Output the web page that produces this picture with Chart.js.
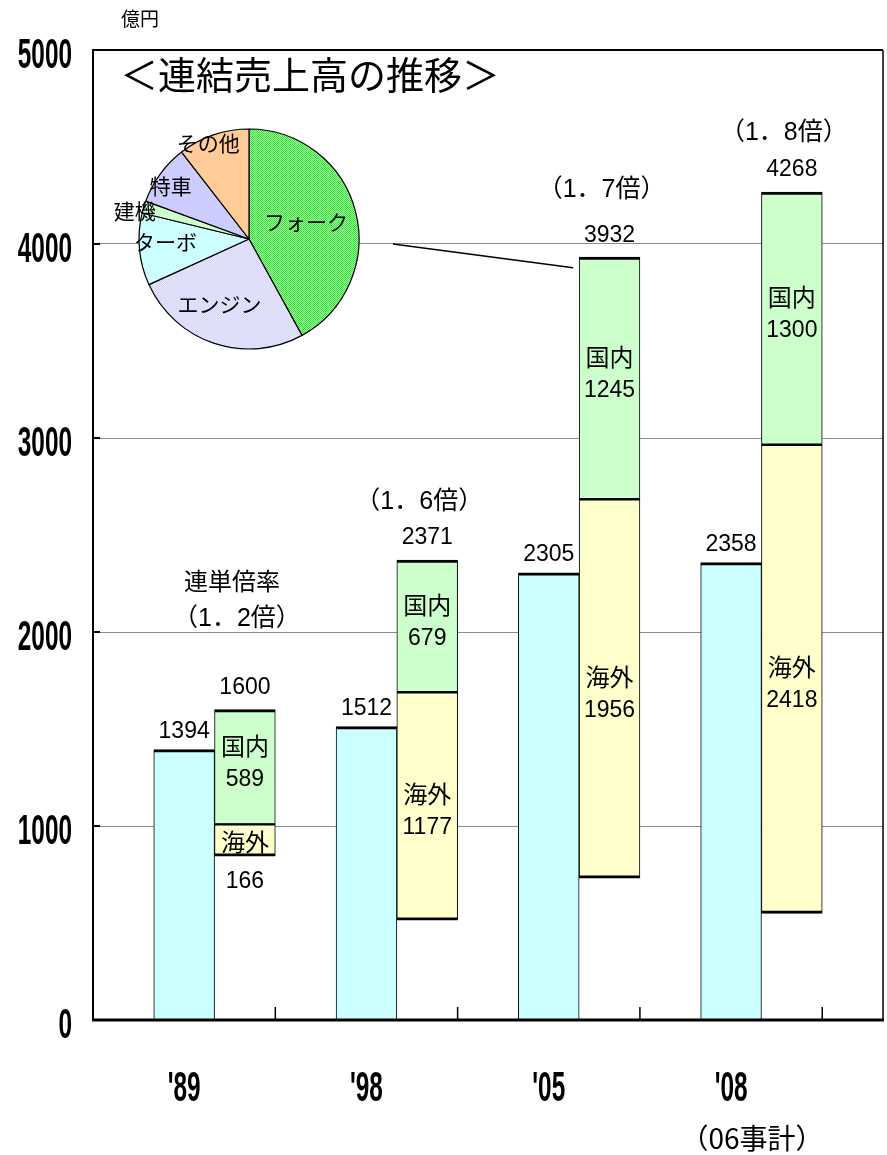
<!DOCTYPE html>
<html lang="ja">
<head>
<meta charset="utf-8">
<script src="https://cdn.jsdelivr.net/npm/chart.js@4.4.1/dist/chart.umd.min.js"></script>
<style>
  html, body { margin: 0; padding: 0; background: #fff; }
  #wrap { position: relative; width: 887px; height: 1155px; }
  #salesChart { position: absolute; left: 0; top: 0; }
  #segmentPie { position: absolute; }
</style>
</head>
<body>
<div id="wrap">
  <canvas id="salesChart" width="887" height="1155"></canvas>
  <canvas id="segmentPie" width="280" height="280"></canvas>
</div>
<script>
/* ---- data (億円) ---- */
const YEARS = ["'89", "'98", "'05", "'08"];
const YEAR_NOTES = ['', '', '', '（06事計）'];
const SINGLE = [1394, 1512, 2305, 2358];          // 単体
const CONSOLIDATED = [1600, 2371, 3932, 4268];    // 連結
const DOMESTIC = [589, 679, 1245, 1300];          // 国内
const OVERSEAS = [166, 1177, 1956, 2418];         // 海外
const RATIOS = ['（1．2倍）', '（1．6倍）', '（1．7倍）', '（1．8倍）'];
const Y_TICKS = [0, 1000, 2000, 3000, 4000, 5000];

const SEGMENTS = ['フォーク', 'エンジン', 'ターボ', '建機', '特車', 'その他'];
const SEGMENT_SHARE = [42.0, 26.2, 10.6, 1.8, 8.9, 10.5];

/* ---- layout bits ---- */
const RATIO_LIFT = [90, 58, 67, 59];
const PIE_CENTER = { x: 249, y: 239 };
const PIE_RADIUS = 110;
const PIE_LABEL_R = [0.54, 0.65, 0.76, 1.07, 0.86, 0.95];
const PIE_LABEL_TURN = [-2, 6, 3, -3, -2, -4];

const LABEL_FONT = '23px "Liberation Sans", "Noto Sans CJK JP", sans-serif';
const KANJI_FONT = '24px "Noto Sans CJK JP", sans-serif';
const JP_FONT = '"Noto Sans CJK JP", sans-serif';

// 13 slots: [blank, 単体, 連結] x 4 + blank
const slotLabels = [];
YEARS.forEach(yr => slotLabels.push('', yr, ''));
slotLabels.push('');

const singleData = slotLabels.map(() => null);
const overseasData = slotLabels.map(() => null);
const domesticData = slotLabels.map(() => null);
YEARS.forEach((_, i) => {
  const base = CONSOLIDATED[i] - DOMESTIC[i] - OVERSEAS[i];
  singleData[i * 3 + 1] = SINGLE[i];
  overseasData[i * 3 + 2] = [base, base + OVERSEAS[i]];
  domesticData[i * 3 + 2] = [base + OVERSEAS[i], CONSOLIDATED[i]];
});

function dotPattern(bg, fg) {
  const c = document.createElement('canvas');
  c.width = 2; c.height = 2;
  const g = c.getContext('2d');
  g.fillStyle = bg; g.fillRect(0, 0, 2, 2);
  g.fillStyle = fg; g.fillRect(0, 0, 1, 1); g.fillRect(1, 1, 1, 1);
  return g.createPattern(c, 'repeat');
}

function drawText(ctx, str, x, y, font, align) {
  ctx.font = font;
  ctx.textAlign = align || 'center';
  ctx.textBaseline = 'middle';
  ctx.fillStyle = '#000';
  ctx.fillText(str, x, y);
}

// narrow bold numerals like the original axis labels
function drawNarrow(ctx, str, x, baseline, align) {
  ctx.save();
  ctx.font = 'bold 42px "Liberation Sans", Arial, sans-serif';
  ctx.textBaseline = 'alphabetic';
  ctx.textAlign = align;
  ctx.fillStyle = '#000';
  ctx.translate(x, baseline);
  ctx.scale(0.58, 1);
  ctx.fillText(str, 0, 0);
  ctx.restore();
}

function line(ctx, x1, y1, x2, y2, w, color) {
  ctx.beginPath();
  ctx.lineWidth = w;
  ctx.strokeStyle = color || '#000';
  ctx.moveTo(x1, y1);
  ctx.lineTo(x2, y2);
  ctx.stroke();
}

const salesDecor = {
  id: 'salesDecor',
  afterDatasetsDraw(chart) {
    const { ctx, chartArea: a, scales: { x, y } } = chart;
    const single = chart.getDatasetMeta(0).data;
    const over = chart.getDatasetMeta(1).data;
    const dom = chart.getDatasetMeta(2).data;
    ctx.save();

    // frame
    line(ctx, a.left, a.top, a.right, a.top, 2);
    line(ctx, a.right, a.top, a.right, a.bottom, 1.5);
    line(ctx, a.left, a.top - 1, a.left, a.bottom, 2);
    line(ctx, a.left - 1, a.bottom, a.right + 1, a.bottom, 3);

    // y ticks (inside) and labels
    Y_TICKS.forEach(v => {
      const py = y.getPixelForValue(v);
      if (v > 0 && v < 5000) line(ctx, a.left, py, a.left + 7, py, 2);
      drawNarrow(ctx, String(v), 72, py + 18, 'right');
    });

    // x ticks after each group, and year labels
    const slotW = x.getPixelForValue(1) - x.getPixelForValue(0);
    YEARS.forEach((yr, i) => {
      const bx = x.getPixelForValue(i * 3 + 2) + slotW / 2;
      line(ctx, bx, a.bottom, bx, a.bottom - 13, 1.5);
      const lx = x.getPixelForValue(i * 3 + 1);
      drawNarrow(ctx, yr, lx, 1101, 'center');
      if (YEAR_NOTES[i]) drawText(ctx, YEAR_NOTES[i], lx + 21, 1138, '28px ' + JP_FONT);
    });

    // bar labels
    YEARS.forEach((yr, i) => {
      const s = single[i * 3 + 1];
      const o = over[i * 3 + 2];
      const d = dom[i * 3 + 2];
      drawText(ctx, String(SINGLE[i]), s.x, s.y - 18, LABEL_FONT);
      drawText(ctx, String(CONSOLIDATED[i]), d.x, d.y - 22, LABEL_FONT);
      drawText(ctx, RATIOS[i], d.x - 8, d.y - RATIO_LIFT[i], '25px "Liberation Sans", "Noto Sans CJK JP", sans-serif');
      if (i === 0) drawText(ctx, '連単倍率', d.x - 13, d.y - RATIO_LIFT[i] - 39, KANJI_FONT);

      const dm = (d.y + d.base) / 2 - 4;
      drawText(ctx, '国内', d.x, dm - 17, KANJI_FONT);
      drawText(ctx, String(DOMESTIC[i]), d.x, dm + 17, LABEL_FONT);

      const oh = o.base - o.y;
      if (oh > 80) {
        const om = (o.y + o.base) / 2 + 5;
        drawText(ctx, '海外', o.x, om - 17, KANJI_FONT);
        drawText(ctx, String(OVERSEAS[i]), o.x, om + 17, LABEL_FONT);
      } else {
        drawText(ctx, '海外', o.x, (o.y + o.base) / 2 + 2, KANJI_FONT);
        drawText(ctx, String(OVERSEAS[i]), o.x, o.base + 26, LABEL_FONT);
      }
    });

    // connector from the pie to the '05 consolidated bar
    const d05 = dom[2 * 3 + 2];
    line(ctx, PIE_CENTER.x + PIE_RADIUS + 34, y.getPixelForValue(4000),
      d05.x - d05.width / 2 - 6, y.getPixelForValue(3877), 1.5);

    // titles
    drawText(ctx, '億円', 121, 19, '19px ' + JP_FONT, 'left');
    drawText(ctx, '＜連結売上高の推移＞', 120, 75, '38px ' + JP_FONT, 'left');
    ctx.restore();
  }
};

new Chart(document.getElementById('salesChart'), {
  type: 'bar',
  data: {
    labels: slotLabels,
    datasets: [
      { label: '単体', data: singleData, backgroundColor: '#CCFFFF', borderColor: '#000',
        borderWidth: { top: 3, left: 1, right: 1, bottom: 0 }, borderSkipped: 'start' },
      { label: '海外', data: overseasData, backgroundColor: '#FFFFCC', borderColor: '#000',
        borderWidth: { top: 2, left: 1, right: 1, bottom: 3 }, borderSkipped: false },
      { label: '国内', data: domesticData, backgroundColor: '#CCFFCC', borderColor: '#000',
        borderWidth: { top: 3, left: 1, right: 1, bottom: 1 }, borderSkipped: false }
    ]
  },
  options: {
    responsive: false,
    animation: false,
    datasets: { bar: { grouped: false, barPercentage: 1, categoryPercentage: 1 } },
    layout: { padding: { left: 0, right: 4, top: 50, bottom: 0 } },
    plugins: { legend: { display: false }, tooltip: { enabled: false } },
    scales: {
      x: {
        grid: { display: false }, border: { display: false }, ticks: { display: false },
        afterFit: s => { s.height = 135; }
      },
      y: {
        min: 0, max: 5000,
        ticks: { display: false, stepSize: 1000 },
        grid: { color: '#8c8c8c', lineWidth: 1, drawTicks: false },
        border: { display: false },
        afterFit: s => { s.width = 93; }
      }
    }
  },
  plugins: [salesDecor]
});

/* ---- segment pie (inset) ---- */
const pieCanvas = document.getElementById('segmentPie');
pieCanvas.style.left = (PIE_CENTER.x - pieCanvas.width / 2) + 'px';
pieCanvas.style.top = (PIE_CENTER.y - pieCanvas.height / 2) + 'px';

const pieLabels = {
  id: 'pieLabels',
  afterDatasetsDraw(chart) {
    const { ctx } = chart;
    const arcs = chart.getDatasetMeta(0).data;
    ctx.save();
    arcs.forEach((arc, i) => {
      const mid = (arc.startAngle + arc.endAngle) / 2 + PIE_LABEL_TURN[i] * Math.PI / 180;
      const r = arc.outerRadius * PIE_LABEL_R[i];
      drawText(ctx, SEGMENTS[i], arc.x + Math.cos(mid) * r, arc.y + Math.sin(mid) * r, '21px ' + JP_FONT);
    });
    ctx.restore();
  }
};

new Chart(pieCanvas, {
  type: 'pie',
  data: {
    labels: SEGMENTS,
    datasets: [{
      data: SEGMENT_SHARE,
      backgroundColor: [dotPattern('#99FF99', '#40DD40'), dotPattern('#E6E6FF', '#D6D6F5'),
        '#CCFFFF', '#CCFFCC', '#CCCCFF', '#FFCC99'],
      borderColor: '#000',
      borderWidth: 1.2
    }]
  },
  options: {
    responsive: false,
    animation: false,
    radius: PIE_RADIUS,
    layout: { padding: 0 },
    plugins: { legend: { display: false }, tooltip: { enabled: false } }
  },
  plugins: [pieLabels]
});
</script>
</body>
</html>
